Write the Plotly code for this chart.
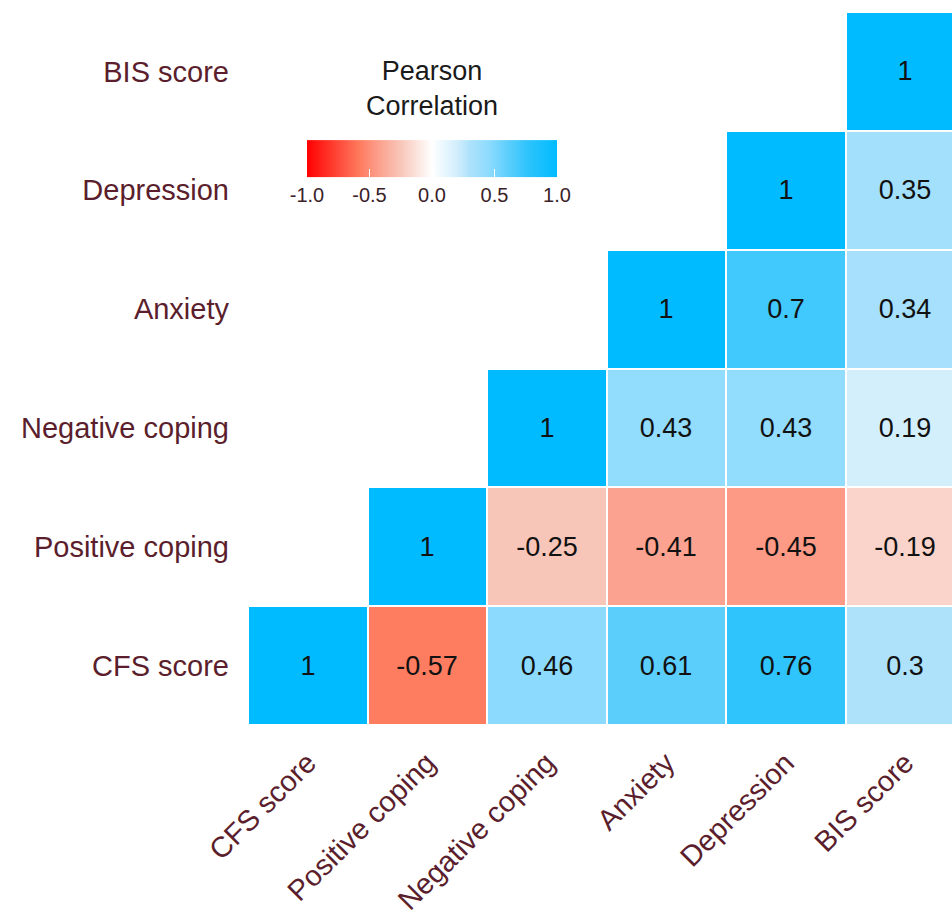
import plotly.graph_objects as go

# Variables, ordered from the bottom row / left column
variables = ["CFS score", "Positive coping", "Negative coping", "Anxiety", "Depression", "BIS score"]

# Upper-triangle correlations: one list per row (y variable), starting at the diagonal
row_cfs = [1, -0.57, 0.46, 0.61, 0.76, 0.3]
row_positive = [1, -0.25, -0.41, -0.45, -0.19]
row_negative = [1, 0.43, 0.43, 0.19]
row_anxiety = [1, 0.7, 0.34]
row_depression = [1, 0.35]
row_bis = [1]

rows = [row_cfs, row_positive, row_negative, row_anxiety, row_depression, row_bis]
n = len(variables)
z = [[None] * n for _ in range(n)]
labels = [[""] * n for _ in range(n)]
for i, vals in enumerate(rows):
    for k, v in enumerate(vals):
        z[i][i + k] = v
        labels[i][i + k] = f"{v:g}"

# Diverging red - white - deep sky blue scale
colorscale = [
    [0.0, "#FF0000"],
    [0.215, "#FE7D61"],
    [0.275, "#FC9A86"],
    [0.375, "#F8C6B9"],
    [0.5, "#FFFFFF"],
    [0.6, "#D2EEFC"],
    [0.65, "#AEE2FB"],
    [0.73, "#8CDBFE"],
    [0.805, "#5CCEFC"],
    [0.88, "#2FC4FC"],
    [1.0, "#00BBFF"],
]

label_color = "#5B1E2C"
family = "Liberation Sans, Arial, sans-serif"

# Plot area geometry in pixels (used to place the colour bar inside it)
fig_w, fig_h = 952, 916
left, top, bottom = 248, 12, 187
plot_w = fig_w - left
plot_h = fig_h - top - bottom

fig = go.Figure(
    go.Heatmap(
        z=z,
        x=variables,
        y=variables,
        zmin=-1,
        zmax=1,
        colorscale=colorscale,
        xgap=2,
        ygap=2,
        text=labels,
        texttemplate="%{text}",
        textfont=dict(family=family, size=27, color="#111111"),
        hoverongaps=False,
        colorbar=dict(
            orientation="h",
            title=dict(text="Pearson<br>Correlation", side="top",
                       font=dict(family=family, size=27, color="#1a1a1a")),
            x=(432 - left) / plot_w,
            xanchor="center",
            y=1 - (65 - top) / plot_h,
            yanchor="top",
            len=270,
            lenmode="pixels",
            thickness=37,
            outlinewidth=0,
            tickvals=[-1, -0.5, 0, 0.5, 1],
            ticktext=["-1.0", "-0.5", "0.0", "0.5", "1.0"],
            ticks="inside",
            ticklen=8,
            tickcolor="white",
            tickfont=dict(family=family, size=20, color="#3a2228"),
        ),
    )
)

fig.update_layout(
    width=fig_w,
    height=fig_h,
    margin=dict(l=left, r=0, t=top, b=bottom),
    plot_bgcolor="white",
    paper_bgcolor="white",
    font=dict(family=family),
)
fig.update_xaxes(
    range=[-0.5, -0.5 + plot_w / 119.5],
    tickangle=-45,
    showgrid=False,
    zeroline=False,
    showline=False,
    ticks="",
    ticklabelstandoff=14,
    tickfont=dict(size=29, color=label_color),
)
fig.update_yaxes(
    range=[-0.5, 5.5],
    showgrid=False,
    zeroline=False,
    showline=False,
    ticks="",
    ticklabelstandoff=18,
    tickfont=dict(size=29, color=label_color),
)

fig.write_html("out.html")
